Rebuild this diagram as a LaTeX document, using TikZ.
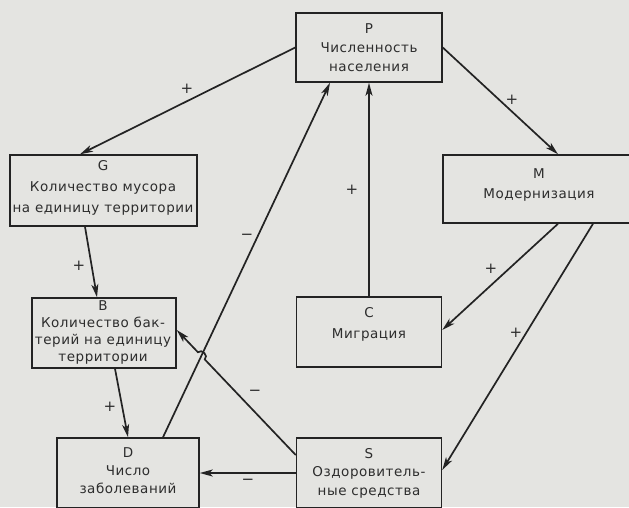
\documentclass[tikz,border=0pt]{standalone}
\usepackage{fontspec}
\setmainfont{DejaVu Sans}[LetterSpace=4.0]
\usetikzlibrary{arrows.meta,calc,intersections}
\definecolor{bg}{RGB}{228,228,225}
\definecolor{ink}{RGB}{35,35,35}
\definecolor{txt}{RGB}{45,45,45}
\begin{document}
\begin{tikzpicture}[x=1pt,y=1pt,
  box/.style={draw=ink, line width=1.5pt, rectangle, inner sep=0pt},
  lbl/.style={text=txt, font=\fontsize{13.5}{19}\selectfont, align=center, inner sep=0pt, anchor=north},
  sign/.style={text=txt, font=\fontsize{15}{16}\selectfont, inner sep=0pt},
  conn/.style={draw=ink, line width=1.7pt, -{Stealth[length=13pt,width=7pt,inset=3.5pt]}},
]
\fill[bg] (0,0) rectangle (629,-507);
\useasboundingbox (0,0) rectangle (629,-507);

% boxes
\node[box, minimum width=146pt, minimum height=69pt] (P) at (369,-47.5) {};
\node[box, minimum width=187pt, minimum height=71pt] (G) at (103.5,-190.5) {};
\node[box, minimum width=189pt, minimum height=68pt] (M) at (537.5,-189) {};
\node[box, minimum width=144pt, minimum height=70pt] (B) at (104,-333) {};
\node[box, minimum width=145pt, minimum height=70pt] (C) at (369,-332) {};
\node[box, minimum width=142pt, minimum height=70pt] (D) at (128,-473) {};
\node[box, minimum width=145pt, minimum height=70pt] (S) at (369,-473) {};

% box texts
\node[lbl] (Pt) at (369,-23) {P\\Численность\\населения};
\node[lbl, font=\fontsize{13.5}{21}\selectfont] (Gt) at (103,-160) {G\\Количество мусора\\на единицу территории};
\node[lbl, font=\fontsize{13.5}{20}\selectfont] (Mt) at (539,-168) {M\\Модернизация};
\node[lbl, font=\fontsize{13.5}{17}\selectfont] (Bt) at (103,-300) {B\\Количество бак-\\терий на единицу\\территории};
\node[lbl, font=\fontsize{13.5}{21}\selectfont] (Ct) at (369,-307) {C\\Миграция};
\node[lbl, font=\fontsize{13.5}{18}\selectfont] (Dt) at (128,-447) {D\\Число\\заболеваний};
\node[lbl, font=\fontsize{13.5}{18.5}\selectfont] (St) at (369,-448) {S\\Оздоровитель-\\ные средства};

% connectors
\draw[conn] (P.west) -- ([xshift=-23.5pt]G.north);
\draw[conn] (P.east) -- ([xshift=20.5pt]M.north);
\draw[conn] ([xshift=-18.5pt]G.south) -- ([xshift=-7pt]B.north);
\draw[conn] ([xshift=11pt]B.south) -- (D.north);
\draw[conn, name path=dp] ([xshift=35pt]D.north) -- ([xshift=-39pt]P.south);
\draw[conn] (C.north) -- (P.south);
\draw[conn] ([xshift=20.5pt]M.south) -- ([yshift=2pt]C.east);
\draw[conn] ([xshift=55.5pt]M.south) -- ([yshift=3pt]S.east);
\draw[conn] (S.west) -- (S.west -| D.east);
\coordinate (sb1) at ([yshift=18pt]S.west);
\coordinate (sb2) at ([yshift=3pt]B.east);
\path[name path=sb] (sb1) -- (sb2);
\path[name intersections={of=dp and sb, by=X}];
\draw[conn] (sb1) -- ($(X)!5pt!(sb1)$) to[bend right=90, looseness=1.4] ($(X)!5pt!(sb2)$) -- (sb2);

% signs
\node[sign] (l1) at (187,-89) {+};
\node[sign] (l2) at (512,-100) {+};
\node[sign] (l3) at (79,-266) {+};
\node[sign] (l4) at (110,-407) {+};
\node[sign] (l5) at (247,-237) {−};
\node[sign] (l6) at (352,-190) {+};
\node[sign] (l7) at (491,-269) {+};
\node[sign] (l8) at (516,-333) {+};
\node[sign] (l9) at (248,-482) {−};
\node[sign] (l10) at (255,-393) {−};
\end{tikzpicture}
\end{document}
